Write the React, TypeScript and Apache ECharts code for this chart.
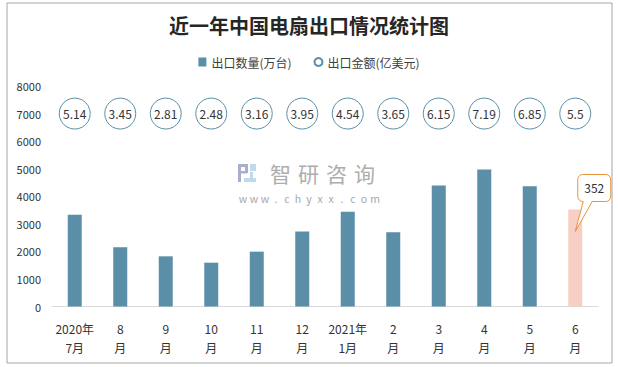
import React, { useEffect, useRef } from "react";
import * as echarts from "echarts";

const categories = ["2020年\n7月", "8\n月", "9\n月", "10\n月", "11\n月", "12\n月", "2021年\n1月", "2\n月", "3\n月", "4\n月", "5\n月", "6\n月"];
const quantity = [3330, 2150, 1820, 1590, 1990, 2720, 3440, 2690, 4390, 4970, 4360, 3520];
const amount = [5.14, 3.45, 2.81, 2.48, 3.16, 3.95, 4.54, 3.65, 6.15, 7.19, 6.85, 5.5];
const calloutLabel = "352";
const yTicks = { min: 0, max: 8000, interval: 1000 };
const BUBBLE_LEVEL = 7000;
const watermarkName = ["智", "研", "咨", "询"];
const watermarkUrl = "www.chyxx.com".split("");

const BAR = "#5A8FA7";
const PINK = "#F8CFC4";
const ORANGE = "#E8913A";
const FONT = "'Noto Sans CJK SC', 'Noto Sans', sans-serif";

export default function App() {
  const ref = useRef<HTMLDivElement>(null);
  useEffect(() => {
    document.body.style.margin = "0";
    const chart = echarts.init(ref.current!, null, { renderer: "svg" });
    const last = quantity.length - 1;
    chart.setOption({
      animation: false,
      backgroundColor: "#fff",
      textStyle: { fontFamily: FONT },
      title: {
        text: "近一年中国电扇出口情况统计图",
        left: "center",
        top: 10,
        textStyle: { fontSize: 20, fontWeight: "bold", color: "#262626", fontFamily: FONT },
      },
      legend: {
        top: 51,
        left: "center",
        itemGap: 22,
        itemWidth: 8,
        itemHeight: 9,
        textStyle: { fontSize: 12, color: "#404040" },
        data: [
          { name: "出口数量(万台)", icon: "rect" },
          { name: "出口金额(亿美元)", icon: "circle" },
        ],
      },
      grid: { left: 52, right: 20, top: 86, bottom: 60.5, containLabel: false },
      xAxis: {
        type: "category",
        data: categories,
        axisTick: { show: false },
        axisLine: { lineStyle: { color: "#D9D9D9" } },
        axisLabel: { color: "#333", fontSize: 12, lineHeight: 19, margin: 12, interval: 0 },
      },
      yAxis: {
        type: "value",
        min: yTicks.min,
        max: yTicks.max,
        interval: yTicks.interval,
        splitLine: { show: false },
        axisLine: { show: false },
        axisTick: { show: false },
        axisLabel: { color: "#333", fontSize: 11, margin: 11, formatter: (v: number) => String(v) },
      },
      series: [
        {
          name: "出口数量(万台)",
          type: "bar",
          barWidth: 14,
          itemStyle: { color: BAR },
          data: quantity.map((v, i) =>
            i === last ? { value: v, itemStyle: { color: PINK } } : v
          ),
        },
        {
          name: "出口金额(亿美元)",
          type: "scatter",
          symbol: "circle",
          symbolSize: 31,
          itemStyle: { color: "#fff", borderColor: BAR, borderWidth: 1, opacity: 1 },
          label: {
            show: true,
            position: "inside",
            color: "#333",
            fontSize: 12,
            formatter: (p: any) => String(amount[p.dataIndex]),
          },
          emphasis: { disabled: true },
          data: amount.map((_, i) => [i, BUBBLE_LEVEL]),
        },
      ],
    });

    const tip = chart.convertToPixel({ seriesIndex: 0 }, [last, quantity[last]]) as number[];
    const cx = tip[0];
    const ty = tip[1];
    const boxX = cx + 2.5;
    const boxY = ty - 35;
    const boxW = 33;
    const boxH = 27;
    const baseY = boxY + boxH;

    const nameTexts = watermarkName.map((ch, i) => ({
      type: "text",
      silent: true,
      x: 270 + i * 28,
      y: 162,
      style: { text: ch, fontSize: 21, lineHeight: 21, fill: "#ADADAD", fontFamily: FONT, verticalAlign: "top" },
    }));
    const urlTexts = watermarkUrl.map((ch, i) => ({
      type: "text",
      silent: true,
      x: 243 + i * 11,
      y: 198,
      style: { text: ch, fontSize: 10.5, lineHeight: 10, fill: "#A8A8A8", fontFamily: FONT, align: "center", verticalAlign: "middle" },
    }));

    chart.setOption({
      graphic: [
        {
          type: "rect",
          shape: { x: 7, y: 3, width: 605, height: 360 },
          style: { fill: "none", stroke: "#A6A6A6", lineWidth: 1 },
          silent: true,
        },
        {
          type: "group",
          silent: true,
          children: [
            { type: "rect", shape: { x: 238, y: 164, width: 10, height: 3 }, style: { fill: "#A9AFCB" } },
            { type: "rect", shape: { x: 238, y: 164, width: 3, height: 18 }, style: { fill: "#A9AFCB" } },
            { type: "rect", shape: { x: 245, y: 164, width: 3, height: 9 }, style: { fill: "#A9AFCB" } },
            { type: "rect", shape: { x: 241, y: 171, width: 6, height: 2.5 }, style: { fill: "#A9AFCB" } },
            { type: "rect", shape: { x: 250, y: 164, width: 6, height: 7 }, style: { fill: "#BFD9EE" } },
            { type: "rect", shape: { x: 250, y: 172, width: 3, height: 10 }, style: { fill: "#BFD9EE" } },
            { type: "rect", shape: { x: 244, y: 178, width: 12, height: 4 }, style: { fill: "#BFD9EE" } },
          ],
        },
        ...nameTexts,
        ...urlTexts,
        {
          type: "rect",
          silent: true,
          shape: { x: boxX, y: boxY, width: boxW, height: boxH, r: 5 },
          style: { fill: "#fff", stroke: ORANGE, lineWidth: 1 },
          z: 100,
        },
        {
          type: "polygon",
          silent: true,
          shape: { points: [[cx + 8, baseY - 1], [cx, ty + 22], [cx + 17, baseY - 1]] },
          style: { fill: "#fff", stroke: "none" },
          z: 101,
        },
        {
          type: "polyline",
          silent: true,
          shape: { points: [[cx + 8, baseY], [cx, ty + 22], [cx + 17, baseY]] },
          style: { fill: "none", stroke: ORANGE, lineWidth: 1 },
          z: 102,
        },
        {
          type: "text",
          silent: true,
          x: boxX + boxW / 2,
          y: boxY + boxH / 2,
          style: { text: calloutLabel, fontSize: 12, fill: "#333", align: "center", verticalAlign: "middle", fontFamily: FONT },
          z: 103,
        },
      ],
    });
    return () => chart.dispose();
  }, []);
  return <div ref={ref} style={{ width: 618, height: 367 }} />;
}
